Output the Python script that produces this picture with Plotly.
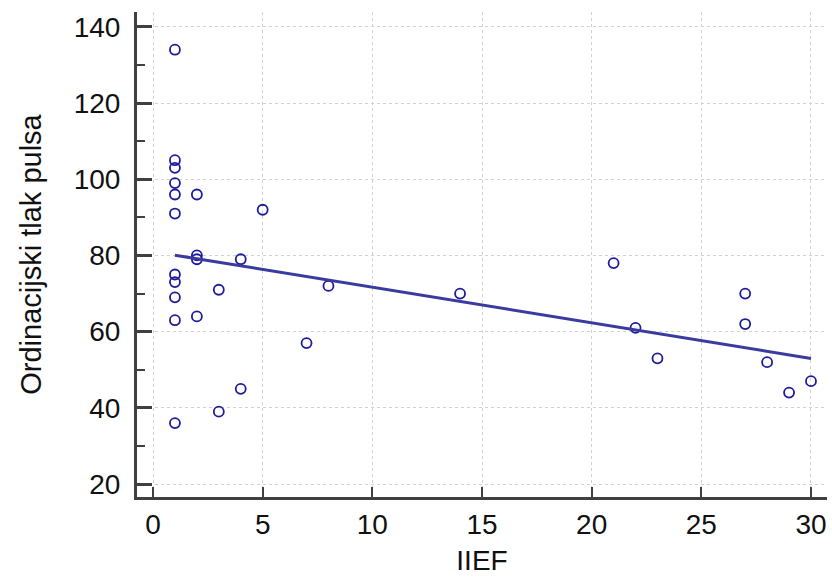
import numpy as np
import plotly.graph_objects as go

# Data
iief = [1, 1, 1, 1, 1, 1, 1, 1, 1, 1, 1,
        2, 2, 2, 2,
        3, 3,
        4, 4,
        5, 7, 8, 14, 21, 22, 23,
        27, 27,
        28, 29, 30]
pulse_pressure = [134, 105, 103, 99, 96, 91, 75, 73, 69, 63, 36,
                  96, 80, 79, 64,
                  71, 39,
                  79, 45,
                  92, 57, 72, 70, 78, 61, 53,
                  70, 62,
                  52, 44, 47]

x_ticks = [0, 5, 10, 15, 20, 25, 30]
y_ticks = [20, 40, 60, 80, 100, 120, 140]

# Least squares regression line
slope, intercept = np.polyfit(iief, pulse_pressure, 1)
fit_x = np.array([min(iief), max(iief)])
fit_y = slope * fit_x + intercept

axis_col = "#404040"
grid_col = "#d2d2d2"
mark_col = "#1c1c9c"
line_col = "#3a3aa0"
text_col = "#111111"
font_fam = "Liberation Sans, Arial, sans-serif"

fig = go.Figure()
fig.add_trace(go.Scatter(
    x=iief, y=pulse_pressure, mode="markers",
    marker=dict(symbol="circle-open", size=10, color=mark_col,
                line=dict(width=1.8, color=mark_col)),
    showlegend=False, hoverinfo="x+y"))
fig.add_trace(go.Scatter(
    x=fit_x, y=fit_y, mode="lines",
    line=dict(color=line_col, width=3),
    showlegend=False, hoverinfo="skip"))

fig.update_layout(
    width=832, height=578,
    margin=dict(l=137, r=5, t=12, b=81),
    paper_bgcolor="white", plot_bgcolor="white",
    font=dict(family=font_fam, color=text_col),
)
fig.update_xaxes(
    range=[-0.73, 30.73],
    tickvals=x_ticks, ticktext=[str(v) for v in x_ticks],
    showgrid=True, gridcolor=grid_col, gridwidth=1, griddash="dot",
    zeroline=False,
    showline=True, linecolor=axis_col, linewidth=3,
    ticks="inside", ticklen=10, tickwidth=2, tickcolor=axis_col,
    tickfont=dict(size=28, family=font_fam, color=text_col),
    ticklabelstandoff=0,
    title=dict(text="IIEF", font=dict(size=28, family=font_fam, color=text_col),
               standoff=12),
)
fig.update_yaxes(
    range=[16.6, 143.9],
    tickvals=y_ticks, ticktext=[str(v) for v in y_ticks],
    showgrid=True, gridcolor=grid_col, gridwidth=1, griddash="dot",
    zeroline=False,
    showline=True, linecolor=axis_col, linewidth=3,
    ticks="inside", ticklen=15, tickwidth=3, tickcolor=axis_col,
    minor=dict(dtick=10, tick0=0, ticks="inside", ticklen=8, tickwidth=2,
               tickcolor=axis_col, showgrid=False),
    tickfont=dict(size=28, family=font_fam, color=text_col),
    ticklabelstandoff=8,
    title=dict(text="Ordinacijski tlak pulsa",
               font=dict(size=29, family=font_fam, color=text_col),
               standoff=24),
)

fig.write_html(
    "out.html",
    config={"displayModeBar": False},
    post_script="document.body.style.margin='0';document.body.style.overflow='hidden';",
)
